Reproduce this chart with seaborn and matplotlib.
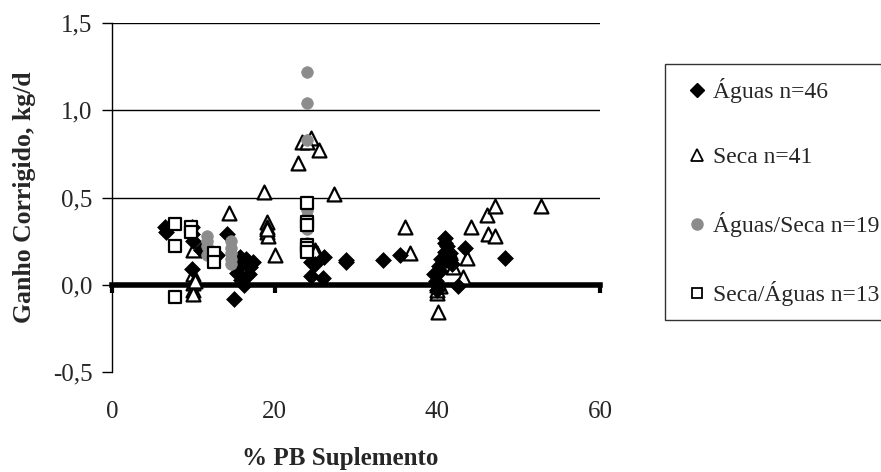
import numpy as np
import pandas as pd
import matplotlib
matplotlib.use("Agg")
import matplotlib.pyplot as plt
import seaborn as sns
from matplotlib.lines import Line2D

# Águas (diamonds)
aguas_x = [6.5, 6.7, 9.8, 9.8, 9.9, 9.8, 12.0, 12.9, 14.2, 15.0, 15.4, 15.8, 16.0, 16.2, 16.5,
           17.0, 17.3, 16.8, 24.5, 26.1, 24.5, 25.9, 28.8, 28.8, 33.3, 35.4, 39.6, 39.8, 40.0,
           40.2, 40.5, 40.9, 41.0, 41.2, 41.0, 41.5, 41.8, 40.3, 42.5, 43.4, 48.3, 41.5, 39.9,
           15.7, 11.0, 25.0]
aguas_y = [0.33, 0.30, 0.33, 0.29, 0.25, 0.09, 0.18, 0.17, 0.29, -0.08, 0.07, 0.03, 0.12, 0.0,
           0.15, 0.10, 0.13, 0.06, 0.13, 0.16, 0.05, 0.04, 0.14, 0.13, 0.14, 0.17, 0.06, 0.02,
           -0.03, 0.11, 0.15, 0.27, 0.24, 0.22, 0.19, 0.14, 0.12, 0.08, -0.01, 0.21, 0.155, 0.18,
           0.0, 0.16, 0.20, 0.12]

# Seca (open triangles)
seca_x = [9.9, 9.9, 9.9, 9.9, 9.9, 14.4, 18.7, 19.1, 19.1, 19.1, 19.2, 20.0, 22.9, 23.4, 24.5,
          25.4, 27.3, 24.9, 25.2, 36.0, 36.6, 40.0, 40.0, 40.1, 41.9, 43.1, 43.6, 44.2, 46.1,
          47.1, 46.2, 47.1, 52.8, 41.3, 40.0, 10.2, 40.3, 24.0, 19.0, 41.5, 25.0]
seca_y = [0.20, 0.06, 0.01, -0.03, -0.055, 0.41, 0.53, 0.36, 0.33, 0.30, 0.28, 0.17, 0.70, 0.82,
          0.84, 0.77, 0.52, 0.20, 0.18, 0.33, 0.18, -0.05, -0.03, -0.155, 0.10, 0.045, 0.155,
          0.33, 0.40, 0.45, 0.29, 0.28, 0.45, 0.14, 0.0, 0.02, -0.01, 0.82, 0.32, 0.19, 0.19]

# Águas/Seca (grey circles)
aguas_seca_x = [24.0, 24.0, 24.0, 24.0, 24.0, 24.0, 24.0, 24.0, 24.0, 24.0,
                11.7, 11.7, 11.7, 11.7, 14.6, 14.6, 14.6, 14.6, 14.6]
aguas_seca_y = [1.22, 1.04, 0.83, 0.47, 0.43, 0.39, 0.35, 0.32, 0.24, 0.22,
                0.28, 0.25, 0.22, 0.17, 0.25, 0.21, 0.18, 0.15, 0.12]

# Seca/Águas (open squares)
seca_aguas_x = [7.8, 7.8, 7.8, 9.7, 9.7, 12.6, 12.6, 24.0, 24.0, 24.0, 24.0, 24.0, 24.0]
seca_aguas_y = [0.35, 0.22, -0.07, 0.33, 0.30, 0.18, 0.13, 0.47, 0.36, 0.34, 0.23, 0.21, 0.19]

x_ticks = [0, 20, 40, 60]
y_ticks = [-0.5, 0.0, 0.5, 1.0, 1.5]
y_ticklabels = ["-0,5", "0,0", "0,5", "1,0", "1,5"]

sns.set_style("white")
plt.rcParams["font.family"] = ["Liberation Serif", "DejaVu Serif"]

fig = plt.figure(figsize=(8.81, 4.72), dpi=100)
ax = fig.add_axes([112 / 881, 1 - 372 / 472, (600 - 112) / 881, (372 - 23) / 472])

for g in [0.5, 1.0, 1.5]:
    ax.axhline(g, color="black", lw=1, zorder=1)

groups = [
    ("Águas n=46", aguas_x, aguas_y, dict(marker="D", s=65, color="black", edgecolor="black", linewidth=0.5)),
    ("Seca n=41", seca_x, seca_y, dict(marker="^", s=100, color="white", edgecolor="black", linewidth=1.6)),
    ("Águas/Seca n=19", aguas_seca_x, aguas_seca_y, dict(marker="o", s=70, color="#8c8c8c", edgecolor="#8c8c8c", linewidth=0.5)),
    ("Seca/Águas n=13", seca_aguas_x, seca_aguas_y, dict(marker="s", s=80, color="white", edgecolor="black", linewidth=1.6)),
]
draw_order = [1, 0, 2, 3]
for i in draw_order:
    name, xs, ys, kw = groups[i]
    df = pd.DataFrame({"x": xs, "y": ys})
    sns.scatterplot(data=df, x="x", y="y", ax=ax, legend=False, zorder=3, **kw)

ax.set_xlim(0, 60)
ax.set_ylim(-0.5, 1.5)
ax.set_yticks(y_ticks)
ax.set_yticklabels(y_ticklabels)
ax.set_xticks(x_ticks)
ax.set_xticklabels([str(t) for t in x_ticks])

for s in ["top", "right"]:
    ax.spines[s].set_visible(False)
ax.spines["left"].set_linewidth(1)
ax.spines["left"].set_color("black")
ax.spines["bottom"].set_position(("data", 0))
ax.spines["bottom"].set_linewidth(4)
ax.spines["bottom"].set_color("black")
ax.spines["bottom"].set_zorder(2)

ax.tick_params(axis="y", direction="out", length=7, width=1, color="black", labelsize=18, pad=7, left=True)
ax.tick_params(axis="x", direction="out", length=6, width=3, color="black", labelsize=18, pad=78, bottom=True)

ax.set_xlabel("% PB Suplemento", fontsize=18, fontweight="bold")
ax.xaxis.set_label_coords((340 - 112) / 488, -0.215)
ax.set_ylabel("Ganho Corrigido, kg/d", fontsize=18.5, fontweight="bold", labelpad=12)

handles = [
    Line2D([], [], ls="", marker="D", ms=7, mfc="black", mec="black"),
    Line2D([], [], ls="", marker="^", ms=8, mfc="white", mec="black", mew=1.3),
    Line2D([], [], ls="", marker="o", ms=8, mfc="#8c8c8c", mec="#8c8c8c"),
    Line2D([], [], ls="", marker="s", ms=7, mfc="white", mec="black", mew=1.3),
]
labels = [g[0] for g in groups]
leg = fig.legend(handles, labels, loc="lower left", bbox_to_anchor=(665 / 881, 1 - 320 / 472),
                 frameon=True, fancybox=False, edgecolor="black", fontsize=17,
                 labelspacing=1.85, handlelength=1.5, handletextpad=-0.05, borderpad=0.6,
                 borderaxespad=0)
leg.get_frame().set_linewidth(1)

fig.savefig("out.png", dpi=100)
